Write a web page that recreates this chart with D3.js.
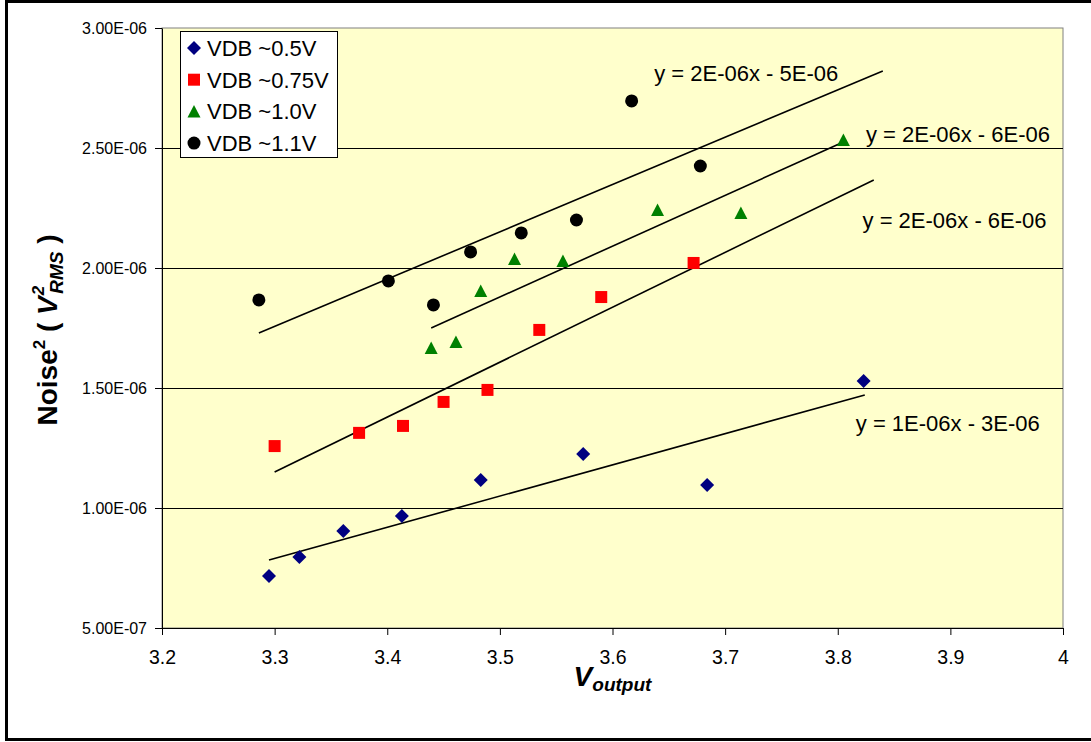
<!DOCTYPE html>
<html>
<head>
<meta charset="utf-8">
<script src="https://cdn.jsdelivr.net/npm/d3@7"></script>
<style>
  body { margin: 0; background: #fff; }
  text { font-family: "Liberation Sans", Arial, sans-serif; }
</style>
</head>
<body>
<div id="container"></div>
<script>
/* DATA */
const seriesNames = ["VDB ~0.5V", "VDB ~0.75V", "VDB ~1.0V", "VDB ~1.1V"];

const vout05 = [3.295, 3.322, 3.361, 3.413, 3.483, 3.574, 3.684, 3.823];
const noise05 = [0.717e-6, 0.796e-6, 0.904e-6, 0.967e-6, 1.117e-6, 1.225e-6, 1.096e-6, 1.529e-6];

const vout075 = [3.300, 3.375, 3.414, 3.450, 3.489, 3.535, 3.590, 3.672];
const noise075 = [1.258e-6, 1.313e-6, 1.342e-6, 1.442e-6, 1.492e-6, 1.742e-6, 1.879e-6, 2.021e-6];

const vout10 = [3.439, 3.461, 3.483, 3.513, 3.556, 3.640, 3.714, 3.805];
const noise10 = [1.667e-6, 1.692e-6, 1.904e-6, 2.037e-6, 2.029e-6, 2.242e-6, 2.229e-6, 2.533e-6];

const vout11 = [3.286, 3.401, 3.441, 3.474, 3.519, 3.568, 3.617, 3.678];
const noise11 = [1.867e-6, 1.946e-6, 1.846e-6, 2.067e-6, 2.146e-6, 2.200e-6, 2.696e-6, 2.425e-6];

// trendline end points
const trendX = [[3.295, 3.824], [3.300, 3.832], [3.439, 3.805], [3.286, 3.840]];
const trendY = [[0.783e-6, 1.471e-6], [1.150e-6, 2.367e-6], [1.750e-6, 2.525e-6], [1.729e-6, 2.821e-6]];
const trendLabels = ["y = 1E-06x - 3E-06", "y = 2E-06x - 6E-06", "y = 2E-06x - 6E-06", "y = 2E-06x - 5E-06"];
const trendLabelX = [3.816, 3.822, 3.825, 3.637];
const trendLabelY = [1.354e-6, 2.200e-6, 2.558e-6, 2.8125e-6];

const xTicks = [3.2, 3.3, 3.4, 3.5, 3.6, 3.7, 3.8, 3.9, 4];
const xTickLabels = ["3.2", "3.3", "3.4", "3.5", "3.6", "3.7", "3.8", "3.9", "4"];
const yTicks = [0.5e-6, 1.0e-6, 1.5e-6, 2.0e-6, 2.5e-6, 3.0e-6];
const yTickLabels = ["5.00E-07", "1.00E-06", "1.50E-06", "2.00E-06", "2.50E-06", "3.00E-06"];

/* CONSTANTS */
const width = 1091, height = 742;
const plot = { left: 162, top: 28, right: 1063, bottom: 628 };
const colors = ["#000080", "#FF0000", "#008000", "#000000"];

const series = [
  { x: vout05, y: noise05 },
  { x: vout075, y: noise075 },
  { x: vout10, y: noise10 },
  { x: vout11, y: noise11 }
];

// marker shapes (Excel style)
const diamond = { draw(ctx) { const r = 7; ctx.moveTo(0, -r); ctx.lineTo(r, 0); ctx.lineTo(0, r); ctx.lineTo(-r, 0); ctx.closePath(); } };
const square = { draw(ctx) { const r = 6; ctx.rect(-r, -r, 2 * r, 2 * r); } };
const triangle = { draw(ctx) { ctx.moveTo(0, -6.5); ctx.lineTo(6.5, 6); ctx.lineTo(-6.5, 6); ctx.closePath(); } };
const circle = { draw(ctx) { ctx.moveTo(6.5, 0); ctx.arc(0, 0, 6.5, 0, 2 * Math.PI); } };
const shapes = [diamond, square, triangle, circle];

const svg = d3.select("#container").append("svg")
  .attr("width", width)
  .attr("height", height);

// outer chart border
svg.append("rect")
  .attr("x", 6.5).attr("y", 1.5)
  .attr("width", width + 20).attr("height", 738)
  .attr("fill", "#fff")
  .attr("stroke", "#000")
  .attr("stroke-width", 3);

/* SCALES */
const xScale = d3.scaleLinear().domain([3.2, 4]).range([plot.left, plot.right]);
const yScale = d3.scaleLinear().domain([0.5e-6, 3.0e-6]).range([plot.bottom, plot.top]);

// plot area
svg.append("rect")
  .attr("x", plot.left).attr("y", plot.top)
  .attr("width", plot.right - plot.left).attr("height", plot.bottom - plot.top)
  .attr("fill", "#FFFFCC")
  .attr("stroke", "#808080")
  .attr("stroke-width", 1);

// gridlines
svg.append("g")
  .selectAll("line")
  .data(yTicks.slice(1, -1))
  .join("line")
  .attr("x1", plot.left).attr("x2", plot.right)
  .attr("y1", d => Math.round(yScale(d)) + 0.5)
  .attr("y2", d => Math.round(yScale(d)) + 0.5)
  .attr("stroke", "#000")
  .attr("stroke-width", 1);

/* AXES */
const xAxis = d3.axisBottom(xScale)
  .tickValues(xTicks)
  .tickFormat((d, i) => xTickLabels[i])
  .tickSizeInner(7).tickSizeOuter(0)
  .tickPadding(15);

const yAxis = d3.axisLeft(yScale)
  .tickValues(yTicks)
  .tickFormat((d, i) => yTickLabels[i])
  .tickSizeInner(7).tickSizeOuter(0)
  .tickPadding(8);

const gx = svg.append("g")
  .attr("transform", `translate(0,${plot.bottom})`)
  .call(xAxis);
gx.selectAll("text").style("font-size", "19.5px").attr("fill", "#000");

const gy = svg.append("g")
  .attr("transform", `translate(${plot.left},0)`)
  .call(yAxis);
gy.selectAll("text").style("font-size", "16px").attr("fill", "#000");

svg.selectAll(".domain, .tick line").attr("stroke", "#000");

/* TRENDLINES */
svg.append("g")
  .selectAll("line")
  .data(trendX)
  .join("line")
  .attr("x1", d => xScale(d[0]))
  .attr("x2", d => xScale(d[1]))
  .attr("y1", (d, i) => yScale(trendY[i][0]))
  .attr("y2", (d, i) => yScale(trendY[i][1]))
  .attr("stroke", "#000")
  .attr("stroke-width", 1.6);

svg.append("g")
  .selectAll("text")
  .data(trendLabels)
  .join("text")
  .attr("x", (d, i) => xScale(trendLabelX[i]))
  .attr("y", (d, i) => yScale(trendLabelY[i]))
  .attr("dy", "0.35em")
  .style("font-size", "22px")
  .text(d => d);

/* POINTS */
series.forEach((s, si) => {
  svg.append("g")
    .selectAll("path")
    .data(s.x)
    .join("path")
    .attr("transform", (d, i) => `translate(${xScale(d)},${yScale(s.y[i])})`)
    .attr("d", d3.symbol().type(shapes[si]))
    .attr("fill", colors[si]);
});

/* LEGEND */
const legend = svg.append("g").attr("transform", "translate(180,31)");
legend.append("rect")
  .attr("x", 0.5).attr("y", 0.5)
  .attr("width", 157).attr("height", 126)
  .attr("fill", "#fff")
  .attr("stroke", "#000");

const items = legend.selectAll(".item")
  .data(seriesNames)
  .join("g")
  .attr("class", "item")
  .attr("transform", (d, i) => `translate(14,${17 + i * 31.7})`);

items.append("path")
  .attr("d", (d, i) => d3.symbol().type(shapes[i])())
  .attr("fill", (d, i) => colors[i]);

items.append("text")
  .attr("x", 13)
  .attr("dy", "0.36em")
  .style("font-size", "22px")
  .text(d => d);

/* AXIS TITLES */
const xt = svg.append("text")
  .attr("x", (plot.left + plot.right) / 2)
  .attr("y", 686)
  .attr("text-anchor", "middle")
  .style("font-weight", "bold")
  .style("font-style", "italic");
xt.append("tspan").style("font-size", "28px").text("V");
xt.append("tspan").style("font-size", "19px").attr("dy", 5).text("output");

const yt = svg.append("text")
  .attr("transform", `translate(57,330) rotate(-90)`)
  .attr("text-anchor", "middle")
  .style("font-weight", "bold")
  .style("font-size", "28px");
yt.append("tspan").text("Noise");
yt.append("tspan").style("font-size", "17px").attr("dy", -12).text("2");
yt.append("tspan").attr("dy", 12).text(" ( ");
yt.append("tspan").style("font-style", "italic").text("V");
yt.append("tspan").style("font-size", "17px").style("font-style", "italic").attr("dx", 1).attr("dy", -13).text("2");
yt.append("tspan").style("font-size", "19px").style("font-style", "italic").attr("dx", -8).attr("dy", 19).text("RMS");
yt.append("tspan").attr("dy", -6).text(" )");
</script>
</body>
</html>
